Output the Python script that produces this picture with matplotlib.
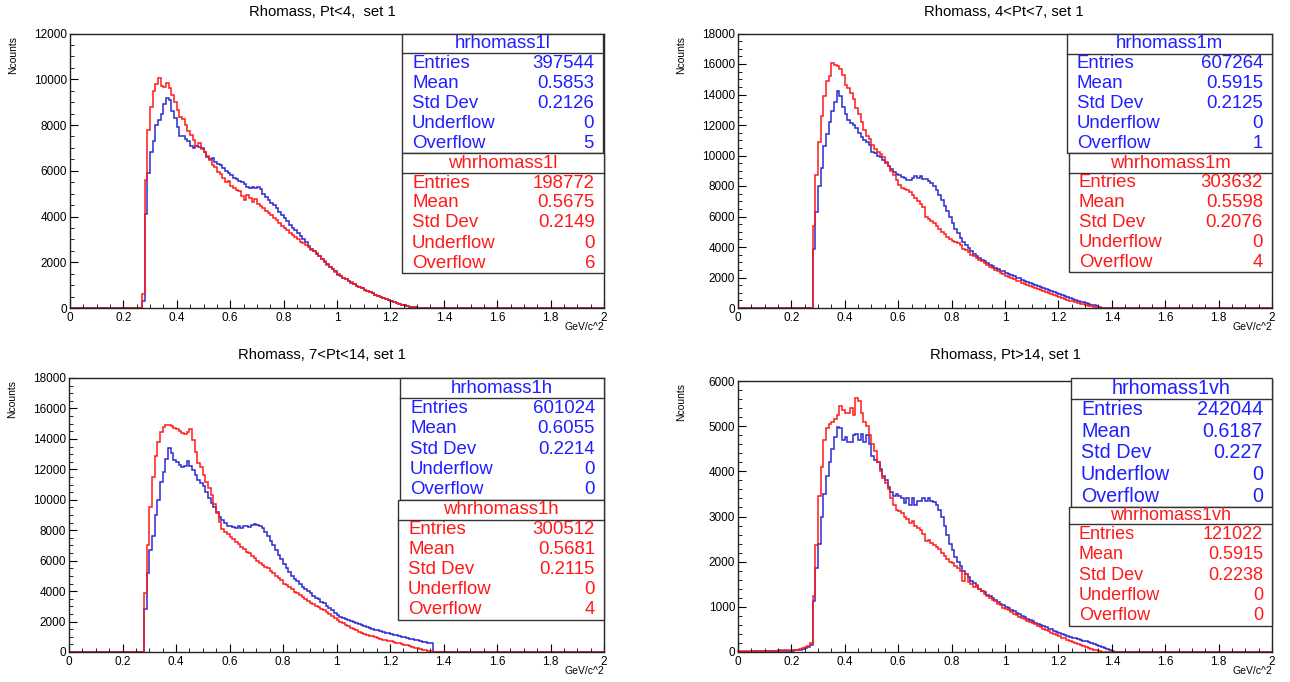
import numpy as np
import matplotlib
matplotlib.use("Agg")
import matplotlib.pyplot as plt
from matplotlib.patches import Rectangle
from matplotlib.lines import Line2D
from matplotlib.ticker import MultipleLocator, FormatStrFormatter

plt.rcParams['font.family'] = ['Liberation Sans', 'DejaVu Sans']

# 200 bins, 0..2 GeV/c^2; the lists below start at bin 0.27 (panel 4 at 0.00)
edges = np.linspace(0, 2, 201)

b1 = [300, 4100, 5900, 6800, 7300, 8000, 8200, 8500, 8900, 9200, 9100,
      8600, 8300, 7900, 7500, 7500, 7400, 7300, 7100, 7000, 7100, 7050, 7000, 6800,
      6600, 6500, 6550, 6400, 6300, 6250, 6100, 6000, 5900, 5800, 5700, 5650, 5550,
      5500, 5400, 5300, 5250, 5300, 5250, 5300, 5200, 5000, 4850, 4700, 4600, 4500,
      4350, 4200, 4050, 3950, 3800, 3650, 3500, 3400, 3270, 3150, 3000, 2870, 2720,
      2600, 2480, 2370, 2260, 2150, 2030, 1920, 1800, 1700, 1600, 1450, 1380, 1320,
      1250, 1180, 1100, 1040, 980, 920, 860, 800, 750, 700, 640, 590, 540, 490, 440,
      390, 345, 300, 260, 220, 180, 150, 120, 90, 65, 45, 30, 15, 5]
r1 = [600, 5600, 7800, 8800, 9500, 9800, 10050, 9700, 9650, 9850, 9600,
      9300, 9000, 8650, 8350, 8250, 8000, 7750, 7550, 7350, 7100, 7200, 6950, 6800,
      6650, 6450, 6250, 6150, 5950, 5850, 5700, 5500, 5550, 5350, 5250, 5150, 5100,
      4900, 4700, 4950, 4800, 4650, 4750, 4550, 4450, 4350, 4250, 4150, 4050, 3950,
      3850, 3700, 3600, 3500, 3400, 3300, 3200, 3100, 3000, 2900, 2850, 2750, 2650,
      2550, 2480, 2400, 2280, 2150, 2050, 1900, 1800, 1720, 1580, 1480, 1400, 1300,
      1250, 1200, 1120, 1030, 970, 930, 860, 790, 750, 690, 650, 580, 540, 480, 450,
      380, 340, 290, 260, 210, 180, 150, 110, 90, 60, 45, 25, 15, 5]

b2 = [0, 3900, 6300, 8000, 9200, 10600, 11400, 12200, 12900, 13500, 14250,
      13900, 13200, 12700, 12300, 12150, 12000, 11800, 11500, 11200, 11000, 10900,
      10700, 10250, 10150, 10000, 9900, 9700, 9500, 9300, 9100, 8950, 8800, 8700,
      8600, 8500, 8400, 8400, 8550, 8650, 8500, 8650, 8450, 8450, 8350, 8200, 8000,
      7750, 7400, 7100, 6700, 6350, 5950, 5550, 5200, 4900, 4600, 4350, 4150, 3950,
      3750, 3550, 3400, 3250, 3150, 3050, 2950, 2850, 2750, 2650, 2550, 2450, 2400,
      2300, 2250, 2150, 2100, 2000, 1950, 1850, 1800, 1700, 1650, 1580, 1500, 1450,
      1380, 1300, 1250, 1180, 1100, 1050, 980, 900, 850, 780, 720, 650, 600, 540,
      480, 420, 380, 330, 270, 220, 170, 120, 80, 30]
r2 = [0, 5400, 8700, 10900, 12600, 13900, 14900, 15200, 16050, 15950, 15850,
      15700, 15300, 14600, 14400, 14100, 13700, 13100, 12700, 12200, 11700, 11300,
      11100, 10700, 10400, 10200, 10100, 9900, 9600, 9300, 9000, 8700, 8400, 8050,
      7900, 7800, 7750, 7600, 7400, 7200, 7000, 6800, 6650, 6000, 5850, 5700, 5600,
      5400, 5200, 5000, 4850, 4650, 4500, 4400, 4300, 4250, 4100, 3900, 3800, 3650,
      3500, 3400, 3300, 3150, 3050, 2950, 2800, 2700, 2600, 2500, 2400, 2300, 2200,
      2100, 2050, 1950, 1900, 1800, 1750, 1650, 1600, 1500, 1450, 1380, 1300, 1250,
      1180, 1100, 1050, 980, 920, 850, 780, 720, 660, 600, 540, 480, 430, 380, 330,
      280, 230, 190, 150, 110, 80, 50, 20]

b3 = [0, 2800, 5200, 6700, 7600, 9000, 10000, 11200, 11850, 12700, 13400,
      13050, 12600, 12500, 12300, 12150, 12200, 12550, 12250, 11950, 11650, 11300,
      11100, 10900, 10500, 10100, 9800, 9500, 9200, 8900, 8700, 8450, 8300, 8250,
      8200, 8150, 8250, 8150, 8250, 8300, 8200, 8350, 8400, 8350, 8300, 8150, 7900,
      7600, 7300, 7000, 6700, 6400, 6100, 5800, 5500, 5250, 5000, 4800, 4650, 4450,
      4300, 4150, 4000, 3850, 3700, 3550, 3450, 3300, 3200, 3050, 2900, 2750, 2550,
      2400, 2330, 2230, 2160, 2100, 2030, 1970, 1880, 1820, 1760, 1700, 1640, 1580,
      1520, 1470, 1420, 1360, 1310, 1260, 1220, 1180, 1130, 1090, 1050, 1000, 960,
      920, 880, 840, 800, 760, 720, 680, 640, 600, 560]
r3 = [0, 3900, 7000, 9500, 11500, 12900, 13800, 14450, 14800, 14900, 14900,
      14830, 14700, 14650, 14550, 14400, 14300, 14450, 14650, 13900, 13150, 12400,
      12150, 11650, 11200, 10750, 10300, 9750, 9100, 8550, 8100, 7900, 7750, 7570,
      7400, 7250, 7100, 6900, 6750, 6600, 6480, 6300, 6150, 6000, 5870, 5710, 5600,
      5490, 5340, 5160, 5000, 4850, 4700, 4500, 4400, 4250, 4120, 3970, 3860, 3750,
      3600, 3460, 3350, 3240, 3150, 3050, 2950, 2850, 2760, 2650, 2500, 2380, 2250,
      2100, 2000, 1900, 1780, 1680, 1580, 1500, 1420, 1340, 1260, 1200, 1140, 1080,
      1020, 960, 900, 860, 820, 780, 740, 700, 650, 600, 560, 520, 480, 430, 380,
      330, 280, 240, 200, 160, 120, 80, 40, 10]

b4 = [10, 10, 10, 10, 10, 10, 15, 15, 15, 15, 20, 20, 20, 20, 20, 20, 25, 25,
      25, 30, 30, 35, 40, 50, 60, 80, 100,
      150, 1130, 1850, 2400, 3000, 3500, 3900, 4200, 4500, 4750, 4980, 4950, 4700,
      4750, 4650, 4650, 4800, 4820, 4700, 4820, 4650, 4800, 4600, 4350, 4250, 4200,
      4050, 3900, 3800, 3650, 3550, 3450, 3500, 3450, 3400, 3300, 3400, 3250, 3400,
      3250, 3350, 3350, 3400, 3350, 3420, 3350, 3320, 3250, 3150, 3000, 2800, 2600,
      2400, 2250, 2100, 2000, 1900, 1800, 1720, 1650, 1580, 1520, 1460, 1400, 1360,
      1320, 1270, 1230, 1190, 1150, 1110, 1070, 1040, 1000, 970, 930, 900, 870, 840,
      800, 770, 740, 710, 680, 650, 620, 600, 570, 550, 520, 500, 470, 450, 420, 400,
      380, 360, 340, 320, 300, 280, 260, 250, 250, 230, 200, 180, 150, 130, 110, 90,
      70, 50, 20]
r4 = [20, 20, 20, 20, 25, 25, 25, 25, 25, 30, 30, 30, 30, 30, 30, 35, 35, 35,
      40, 40, 45, 50, 55, 65, 80, 100, 130,
      200, 1250, 2380, 3450, 4100, 4700, 4950, 5050, 5100, 5150, 5250, 5450, 5350,
      5300, 5300, 5400, 5250, 5620, 5550, 5300, 5100, 5000, 4800, 4600, 4450, 4200,
      4000, 3850, 3750, 3600, 3400, 3250, 3150, 3120, 3080, 3000, 2950, 2850, 2900,
      2800, 2750, 2700, 2620, 2450, 2480, 2420, 2380, 2330, 2280, 2200, 2120, 2060,
      2000, 1960, 1900, 1850, 1800, 1580, 1720, 1560, 1500, 1450, 1480, 1400, 1340,
      1290, 1250, 1200, 1160, 1120, 1060, 1030, 980, 950, 920, 880, 850, 820, 780,
      750, 720, 690, 660, 640, 610, 580, 550, 520, 490, 460, 430, 400, 380, 350, 320,
      300, 270, 250, 220, 200, 170, 150, 130, 110, 90, 70, 50, 40, 25, 10]

titles = ["Rhomass, Pt<4,  set 1", "Rhomass, 4<Pt<7, set 1",
          "Rhomass, 7<Pt<14, set 1", "Rhomass, Pt>14, set 1"]
names_blue = ["hrhomass1l", "hrhomass1m", "hrhomass1h", "hrhomass1vh"]
names_red = ["whrhomass1l", "whrhomass1m", "whrhomass1h", "whrhomass1vh"]
stats_blue = [["397544", "0.5853", "0.2126", "0", "5"],
              ["607264", "0.5915", "0.2125", "0", "1"],
              ["601024", "0.6055", "0.2214", "0", "0"],
              ["242044", "0.6187", "0.227", "0", "0"]]
stats_red = [["198772", "0.5675", "0.2149", "0", "6"],
             ["303632", "0.5598", "0.2076", "0", "4"],
             ["300512", "0.5681", "0.2115", "0", "4"],
             ["121022", "0.5915", "0.2238", "0", "0"]]
row_names = ["Entries", "Mean", "Std Dev", "Underflow", "Overflow"]

W, H = 1290, 682
BLUE_LINE = '#2a2ad2'
BLUE_TXT = '#1f1fff'
RED = '#ff1a1a'


def full(vals, start):
    h = np.zeros(200)
    h[start:start + len(vals)] = vals
    return h


def stat_box(fig, l, r, t, head, b, name, vals, color, fs):
    # pixel coords from the top-left corner; head = y of the line under the name
    fig.add_artist(Rectangle((l / W, 1 - b / H), (r - l) / W, (b - t) / H,
                             transform=fig.transFigure, facecolor='white',
                             edgecolor='#333333', lw=1.0, zorder=5))
    fig.add_artist(Line2D([l / W, r / W], [1 - head / H] * 2,
                          transform=fig.transFigure, color='#333333', lw=1.0, zorder=6))
    fig.text((l + r) / 2 / W, 1 - (t + head) / 2 / H, name, color=color,
             fontsize=fs, ha='center', va='center', zorder=7)
    dy = (b - head) / 5
    for i in range(5):
        y = head + dy * (i + 0.5)
        fig.text((l + 10) / W, 1 - y / H, row_names[i], color=color,
                 fontsize=fs, ha='left', va='center', zorder=7)
        fig.text((r - 9) / W, 1 - y / H, vals[i], color=color,
                 fontsize=fs, ha='right', va='center', zorder=7)


fig = plt.figure(figsize=(W / 100, H / 100), dpi=100)

# panel geometry in pixels: axes (l, r, t, b), title centre, boxes (l, r, t, head, b)
panels = [
    dict(ax=(70, 604, 33.5, 308), tx=322, ty=12, ymax=12000, ymaj=2000, ymin=500,
         blue=full(b1, 27), red=full(r1, 27),
         bb=(402, 603, 34, 53, 153), rb=(402, 604, 153, 173, 273), fs=(13.4, 13.4)),
    dict(ax=(738, 1272, 33.5, 308), tx=1004, ty=12, ymax=18000, ymaj=2000, ymin=500,
         blue=full(b2, 27), red=full(r2, 27),
         bb=(1067, 1272, 34, 54, 153), rb=(1069, 1272, 153, 173, 272), fs=(13.4, 13.4)),
    dict(ax=(69, 604, 378, 652), tx=322, ty=355, ymax=18000, ymaj=2000, ymin=500,
         blue=full(b3, 27), red=full(r3, 27),
         bb=(400, 604, 378, 398, 500), rb=(398, 604, 500, 520, 620), fs=(13.4, 13.4)),
    dict(ax=(738, 1272, 381, 652), tx=1005, ty=355, ymax=6000, ymaj=1000, ymin=200,
         blue=full(b4, 0), red=full(r4, 0),
         bb=(1071, 1272, 378, 399, 507), rb=(1069, 1272, 507, 524, 626), fs=(14.2, 13)),
]

for k, p in enumerate(panels):
    l, r, t, b = p['ax']
    ax = fig.add_axes([l / W, 1 - b / H, (r - l) / W, (b - t) / H])
    ax.stairs(p['blue'], edges, color=BLUE_LINE, lw=1.1, baseline=0, clip_on=False)
    ax.stairs(p['red'], edges, color=RED, lw=1.1, baseline=0, clip_on=False)
    ax.set_xlim(0, 2)
    ax.set_ylim(0, p['ymax'])
    ax.xaxis.set_major_locator(MultipleLocator(0.2))
    ax.xaxis.set_minor_locator(MultipleLocator(0.05))
    ax.yaxis.set_major_locator(MultipleLocator(p['ymaj']))
    ax.yaxis.set_minor_locator(MultipleLocator(p['ymin']))
    ax.xaxis.set_major_formatter(FormatStrFormatter('%g'))
    ax.yaxis.set_major_formatter(FormatStrFormatter('%d'))
    ax.tick_params(which='both', direction='in', top=False, right=False,
                   labelsize=8.5, colors='black')
    ax.tick_params(which='major', length=6)
    ax.tick_params(which='minor', length=3)
    ax.tick_params(axis='x', pad=3)
    ax.tick_params(axis='y', pad=2)
    for s in ax.spines.values():
        s.set_linewidth(1.0)
        s.set_color('#222222')

    fig.text(p['tx'] / W, 1 - p['ty'] / H, titles[k], fontsize=10.7,
             ha='center', va='center')
    fig.text((l - 57) / W, 1 - (t + 2) / H, "Ncounts", fontsize=7.5,
             rotation=90, ha='center', va='top')
    fig.text(r / W, 1 - (b + 19) / H, "GeV/c^2", fontsize=7.5,
             ha='right', va='center')

    stat_box(fig, *p['bb'], names_blue[k], stats_blue[k], BLUE_TXT, p['fs'][0])
    stat_box(fig, *p['rb'], names_red[k], stats_red[k], RED, p['fs'][1])

fig.savefig("out.png", dpi=100)
